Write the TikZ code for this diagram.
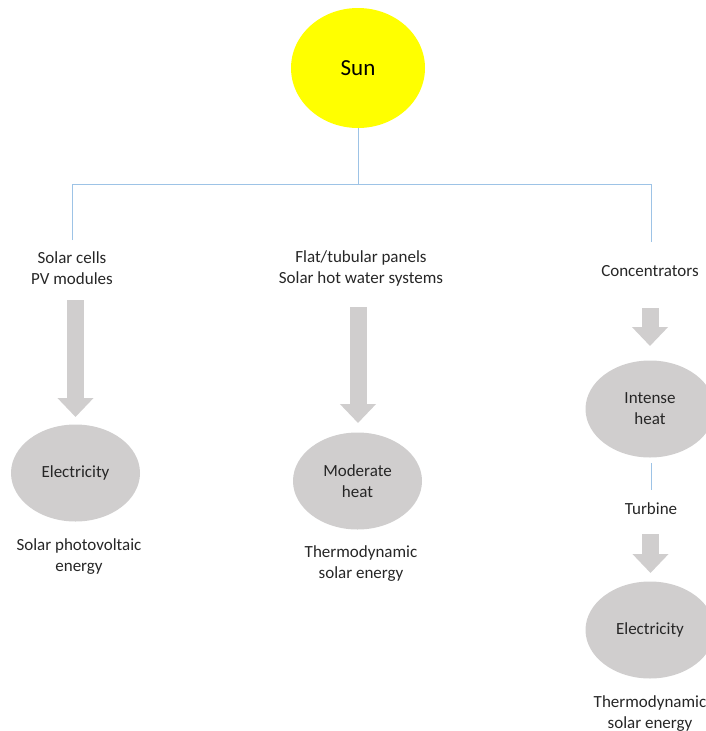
\documentclass[tikz,border=0pt]{standalone}
\usepackage{fontspec}
\setmainfont{Carlito}
\usetikzlibrary{shapes.geometric,arrows.meta}
\definecolor{sunyellow}{HTML}{FFFF00}
\definecolor{blobgray}{HTML}{D0CECE}
\definecolor{linkblue}{HTML}{9DC3E6}
\definecolor{inktext}{HTML}{262626}
\tikzset{
  lbl/.style={align=center, text=inktext, font=\fontsize{17}{21}\selectfont, inner sep=0pt},
  blob/.style={ellipse, fill=blobgray, draw=none, minimum width=129pt, minimum height=97pt,
               inner sep=0pt, align=center, text=inktext, font=\fontsize{17}{21}\selectfont},
  link/.style={draw=linkblue, line width=1pt},
  bigarrow/.style={draw=blobgray, line width=17pt, -{Triangle[width=35pt,length=19pt]}}
}
\begin{document}
\begin{tikzpicture}[x=1pt,y=-1pt]
\useasboundingbox (0,0) rectangle (706,731);

% source
\node[ellipse, fill=sunyellow, minimum width=134pt, minimum height=120pt, inner sep=0pt,
      text=black, font=\fontsize{23}{27}\selectfont] (sun) at (358,68) {Sun};

% branch bar
\coordinate (bar) at (358,184);
\coordinate (ltop) at (72,240);
\coordinate (rtop) at (651,242);
\draw[link] (sun.south) -- (bar);
\draw[link] (ltop) -- (ltop |- bar) -- (rtop |- bar) -- (rtop);

% left branch: photovoltaic
\node[lbl] (pv) at (72,268) {Solar cells\\PV modules};
\node[blob] (elec1) at (75.5,473) {Electricity};
\node[lbl] (pvtxt) at (79,557) {Solar photovoltaic\\energy};
\coordinate (a1s) at (75.5,300);
\coordinate (a1e) at (75.5,417);
\draw[bigarrow] (a1s) -- (a1e);

% middle branch: thermal collectors
\node[lbl] (flat) at (361,268) {Flat/tubular panels\\Solar hot water systems};
\node[blob] (mod) at (357.5,481) {Moderate\\heat};
\node[lbl] (thtxt) at (361,564) {Thermodynamic\\solar energy};
\coordinate (a2s) at (358,307);
\coordinate (a2e) at (358,423);
\draw[bigarrow] (a2s) -- (a2e);

% right branch: concentrated solar power
\node[lbl] (conc) at (650,271) {Concentrators};
\node[blob] (heat) at (650,409) {Intense\\heat};
\coordinate (a3s) at (650,308);
\coordinate (a3e) at (650,346);
\draw[bigarrow] (a3s) -- (a3e);

\coordinate (tl1) at (651,463);
\coordinate (tl2) at (651,490);
\draw[link] (tl1) -- (tl2);
\node[lbl] (turb) at (651,509) {Turbine};
\coordinate (a4s) at (650.5,534);
\coordinate (a4e) at (650.5,573);
\draw[bigarrow] (a4s) -- (a4e);

\node[blob] (elec2) at (650,630) {Electricity};
\node[lbl] (cstxt) at (650,714) {Thermodynamic\\solar energy};
\end{tikzpicture}
\end{document}
